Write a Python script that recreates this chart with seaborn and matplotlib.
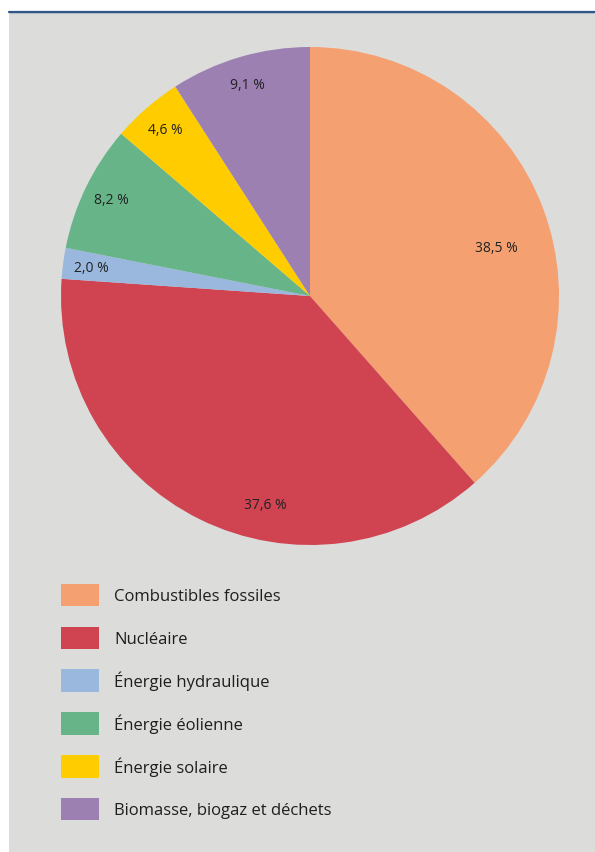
import numpy as np
import matplotlib
matplotlib.use("Agg")
import matplotlib.pyplot as plt
from matplotlib.patches import Rectangle
from matplotlib.lines import Line2D
import seaborn as sns

categories = ["Combustibles fossiles", "Nucléaire", "Énergie hydraulique",
              "Énergie éolienne", "Énergie solaire", "Biomasse, biogaz et déchets"]
values = [38.5, 37.6, 2.0, 8.2, 4.6, 9.1]
colors_hex = ["#F5A070", "#D04452", "#9AB8DE", "#66B487", "#FFCC00", "#9C80B2"]

sns.set_theme(style="white")
plt.rcParams["font.family"] = ["Open Sans", "DejaVu Sans"]
palette = sns.color_palette(colors_hex)

W, H = 595, 853
fig = plt.figure(figsize=(W / 100, H / 100), dpi=100)
fig.patch.set_facecolor("white")

# gray panel and top rule
fig.patches.append(Rectangle((9 / W, 0), 1 - 9 / W, (H - 14) / H,
                             transform=fig.transFigure, facecolor="#DCDCDB",
                             edgecolor="none", zorder=-5))
fig.lines.append(Line2D([9 / W, 1], [(H - 12.5) / H, (H - 12.5) / H],
                        transform=fig.transFigure, color="#2E5387", lw=1.6, zorder=-4))
fig.lines.append(Line2D([9 / W, 1], [(H - 14.2) / H, (H - 14.2) / H],
                        transform=fig.transFigure, color="#AFBCCB", lw=0.8, zorder=-4))

cx, cy, R = 310, 297, 249
ax = fig.add_axes([(cx - R) / W, (H - cy - R) / H, 2 * R / W, 2 * R / H])
ax.set_facecolor("none")
ax.set_zorder(2)

def fmt(p):
    return f"{p:.1f}".replace(".", ",") + " %"

wedges, texts, autotexts = ax.pie(
    values, colors=palette, startangle=90, counterclock=False,
    radius=1, autopct=fmt, pctdistance=0.885,
    textprops=dict(fontsize=10, color="#222222"),
    wedgeprops=dict(linewidth=0))

# placement of the two large-slice labels (radius fraction, angle deg)
label_pos = {0: (0.775, 14.7), 1: (0.855, -102.0)}
for i, (r, a) in label_pos.items():
    autotexts[i].set_position((r * np.cos(np.radians(a)), r * np.sin(np.radians(a))))

ax.set_xlim(-1, 1)
ax.set_ylim(-1, 1)
ax.set_aspect("equal")
ax.axis("off")

leg = fig.legend(wedges, categories, loc="upper left",
                 bbox_to_anchor=(54 / W, (H - 578) / H),
                 frameon=False, fontsize=12, handlelength=2.3, handleheight=1.7,
                 handletextpad=0.9, labelspacing=1.22, borderaxespad=0,
                 labelcolor="#1E1E1E")

fig.savefig("out.png", dpi=100, facecolor=fig.get_facecolor())
